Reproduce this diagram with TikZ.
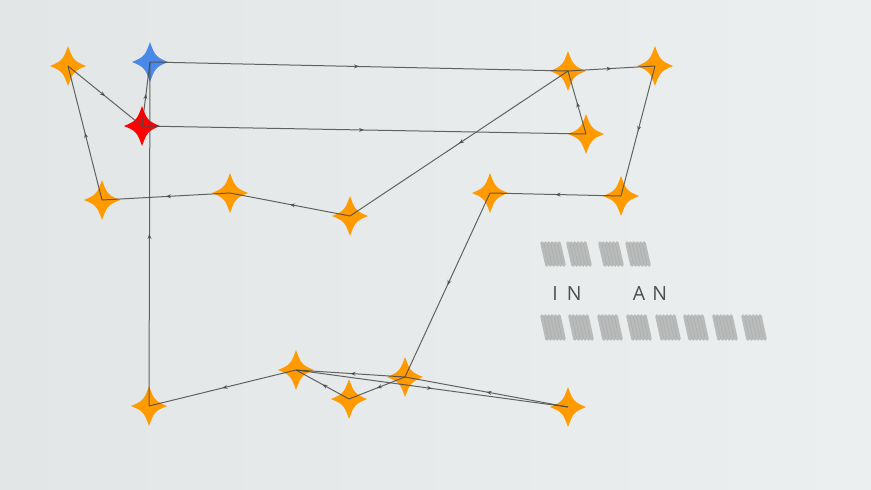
\documentclass[tikz,border=0pt]{standalone}
\usepackage{fontspec}
\newfontfamily\wordfont{Open Sans}
\usetikzlibrary{arrows.meta,decorations.markings}
\definecolor{sorange}{HTML}{FF9A00}
\definecolor{sblue}{HTML}{4A89E8}
\definecolor{sred}{HTML}{FF0000}
\definecolor{sline}{HTML}{4A4A4A}
\definecolor{sbgl}{HTML}{E2E6E6}
\definecolor{sbgr}{HTML}{ECEFEF}
\definecolor{stext}{HTML}{4E4E4E}
\definecolor{ssmudge}{HTML}{8A8A8A}
\tikzset{
 sparkle/.pic={\fill (0,-20) .. controls (5,-6) and (6,-5) .. (18,0) .. controls (6,5) and (5,6) .. (0,20) .. controls (-5,6) and (-6,5) .. (-18,0) .. controls (-6,-5) and (-5,-6) .. (0,-20) -- cycle;},
 leg/.style={draw=sline, line width=1pt, draw opacity=0.85,
  decoration={markings, mark=at position 0.5 with {\arrow{Stealth[length=5pt,width=4pt]}}},
  postaction={decorate}},
 smudge/.style={ssmudge, line width=3.6pt, line cap=round, opacity=0.5}
}

\begin{document}
\begin{tikzpicture}[x=1pt,y=-1pt]
 \shade[left color=sbgl, right color=sbgr] (0,0) rectangle (871,490);
 \useasboundingbox (0,0) rectangle (871,490);
 % stops of the route
 \coordinate (A) at (150,62);
 \coordinate (B) at (142,126);
 \coordinate (C) at (68,66);
 \coordinate (D) at (102,200);
 \coordinate (E) at (230,193);
 \coordinate (F) at (350,216);
 \coordinate (G) at (568,71);
 \coordinate (H) at (655,66);
 \coordinate (I) at (586,134);
 \coordinate (J) at (621,196);
 \coordinate (K) at (490,193);
 \coordinate (L) at (405,377);
 \coordinate (M) at (349,399);
 \coordinate (N) at (296,370);
 \coordinate (O) at (568,407);
 \coordinate (P) at (149,406);
 \foreach \s in {C,D,E,F,G,H,I,J,K,L,M,N,O,P} \pic[sorange] at (\s) {sparkle};
 \pic[sblue] at (A) {sparkle};
 \pic[sred] at (B) {sparkle};
 \foreach \a/\b in {B/I,I/G,G/F,F/E,E/D,D/C,C/B,B/A,A/G,G/H,H/J,J/K,K/L,L/M,M/N,N/O,O/L,L/N,N/P,P/A}
  \draw[leg] (\a) -- (\b);
 % blurred words
 \foreach \x in {540,566,598,625}
  \foreach \k in {0,...,5} \draw[smudge] (\x+2+3.4*\k,243) -- (\x+7+3.4*\k,265);
 \foreach \x in {540,568,597,626,655,683,712,741}
  \foreach \k in {0,...,5} \draw[smudge] (\x+2+3.4*\k,316) -- (\x+7+3.4*\k,339);
 \node[text=stext, font=\wordfont\fontsize{19.5}{20}\selectfont, inner sep=0pt] (w1) at (567,294) {I\hspace{9pt}N};
 \node[text=stext, font=\wordfont\fontsize{19.5}{20}\selectfont, inner sep=0pt] (w2) at (650,294) {A\hspace{7pt}N};
\end{tikzpicture}
\end{document}
